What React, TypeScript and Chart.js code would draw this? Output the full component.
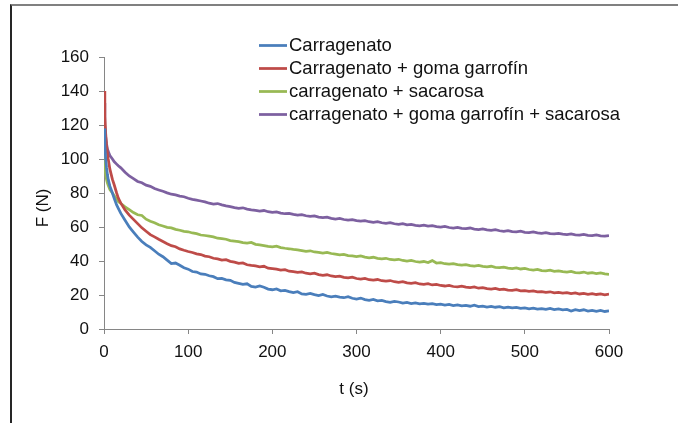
import React, { useEffect, useRef } from "react";
import { Chart, registerables } from "chart.js";

Chart.register(...registerables);

const T = [
  0, 1, 2, 3, 4, 5, 7, 10, 12, 15, 17, 20,
  25, 30, 35, 40, 45, 50, 55, 60, 65, 70, 75, 80, 85, 90, 95, 100,
  105, 110, 115, 120, 125, 130, 135, 140, 145, 150, 155, 160, 165, 170, 175, 180, 185, 190, 195, 200,
  205, 210, 215, 220, 225, 230, 235, 240, 245, 250, 255, 260, 265, 270, 275, 280, 285, 290, 295, 300,
  305, 310, 315, 320, 325, 330, 335, 340, 345, 350, 355, 360, 365, 370, 375, 380, 385, 390, 395, 400,
  405, 410, 415, 420, 425, 430, 435, 440, 445, 450, 455, 460, 465, 470, 475, 480, 485, 490, 495, 500,
  505, 510, 515, 520, 525, 530, 535, 540, 545, 550, 555, 560, 565, 570, 575, 580, 585, 590, 595, 600,
];

const carragenato = [
  118, 108, 100, 95, 91, 88, 84, 80, 77, 73, 71, 68,
  64, 60, 57, 54, 51.5, 49.5, 48, 46, 44, 42.5, 40.5, 38.5, 38.8, 37.5, 36, 35.2,
  33.8, 33.5, 32.4, 32.2, 31.3, 30.8, 29.6, 29.8, 28.9, 28.6, 27.4, 26.8, 26.2, 26.6, 25.1, 24.7, 25.3, 24.6, 23.5, 23.1,
  23.6, 22.5, 22.7, 22.0, 21.4, 21.9, 20.6, 20.4, 20.9, 20.2, 19.6, 20.3, 19.4, 18.9, 19.3, 18.7, 18.4, 19.0, 18.1, 17.6,
  18.2, 17.3, 16.9, 17.4, 16.6, 16.8, 16.1, 15.7, 16.3, 15.9, 15.2, 15.6, 15.0, 15.4, 14.8, 15.1, 14.6, 14.9, 14.3, 14.6,
  14.1, 14.5, 13.8, 14.2, 13.6, 13.9, 13.4, 14.0, 13.2, 13.5, 12.9, 13.3, 12.8, 13.1, 12.5, 12.9, 12.4, 12.7, 12.1, 12.4,
  11.9, 12.3, 11.7, 12.0, 11.6, 12.1, 11.4, 11.8, 11.3, 11.5, 10.6, 11.4, 10.8, 11.3, 10.5, 11.0, 10.4, 10.9, 10.3, 10.6,
];

const carragenatoGoma = [
  140, 125, 115, 108, 104, 100, 94, 88, 85, 80, 77, 74,
  70, 67, 64.5, 62, 59.5, 57.5, 55.5, 54.2, 52.8, 51.5, 50.2, 49.0, 48.4, 47.1, 46.3, 45.6,
  45.0, 44.2, 43.8, 42.9, 42.5, 41.6, 41.2, 40.5, 40.8, 39.8, 39.3, 38.6, 38.9, 37.8, 37.4, 37.1, 36.6, 36.9, 35.8, 35.5,
  35.2, 34.6, 34.9, 34.0, 33.7, 33.3, 33.6, 32.8, 32.5, 32.8, 32.0, 31.6, 31.9, 31.2, 30.8, 31.1, 30.4, 30.1, 30.5, 29.7,
  29.4, 29.8, 29.0, 28.7, 29.1, 28.4, 28.1, 28.5, 27.8, 27.5, 27.9, 27.1, 26.8, 27.2, 26.5, 26.3, 26.7, 25.9, 26.2, 25.6,
  25.3, 25.7, 25.0, 24.8, 25.2, 24.6, 24.3, 24.7, 24.0, 24.3, 23.7, 23.5, 23.9, 23.2, 23.5, 22.9, 22.7, 23.1, 22.4, 22.6,
  22.1, 22.4, 21.8, 22.0, 21.6, 21.9, 21.3, 21.6, 21.1, 21.4, 20.8, 21.2, 20.6, 20.9, 20.4, 20.8, 20.3, 20.6, 20.1, 20.5,
];

const carragenatoSacarosa = [
  106, 96, 91, 88, 86, 84.5, 82, 80, 78.5, 76.5, 75, 73.8,
  71.8, 70.2, 68.5, 67.2, 66.8, 64.6, 63.4, 62.5, 61.3, 60.6, 59.8, 59.5, 58.6, 58.1, 57.4, 57.2,
  56.5, 56.1, 55.3, 55.0, 54.6, 54.2, 53.4, 53.1, 52.8, 52.0, 51.7, 51.4, 50.8, 50.5, 50.9, 49.8, 49.5, 49.1, 48.6, 48.3,
  48.7, 47.9, 47.5, 47.2, 46.8, 46.5, 46.1, 45.7, 46.0, 45.3, 45.1, 44.7, 45.1, 44.4, 44.0, 43.6, 43.9, 43.2, 43.0, 42.6,
  43.0, 42.3, 41.9, 42.2, 41.6, 41.3, 41.6, 40.9, 40.6, 41.0, 40.3, 40.0, 40.3, 39.7, 39.4, 39.7, 39.1, 40.2, 38.8, 39.0,
  38.4, 38.1, 38.5, 37.9, 37.6, 37.9, 37.3, 37.0, 37.4, 36.8, 36.5, 36.9, 36.3, 36.1, 36.4, 35.8, 35.5, 35.9, 35.3, 35.6,
  35.0, 34.7, 35.1, 34.4, 34.2, 34.6, 33.9, 34.2, 33.7, 33.4, 33.9, 33.2, 33.0, 33.5, 32.8, 33.1, 32.6, 33.0, 32.4, 32.2,
];

const carragenatoGomaSacarosa = [
  133, 120, 113, 109, 106, 104.5, 102, 100, 98.5, 97, 96, 94.8,
  92.2, 90.0, 88.5, 86.8, 86.0, 84.6, 83.9, 82.6, 81.8, 81.0, 80.1, 79.3, 78.9, 78.2, 77.8, 76.9,
  76.3, 75.8, 75.3, 74.8, 74.0, 73.5, 73.8, 73.0, 72.4, 72.0, 71.4, 71.0, 71.3, 70.5, 70.1, 69.8, 69.4, 69.7, 69.0, 68.6,
  68.9, 68.2, 67.8, 68.0, 67.4, 67.0, 67.3, 66.6, 66.2, 66.5, 65.8, 65.5, 65.8, 65.1, 64.7, 65.0, 64.4, 64.0, 64.3, 63.7,
  63.4, 63.7, 63.1, 62.8, 63.2, 62.5, 62.2, 62.6, 61.9, 61.6, 62.0, 61.3, 61.5, 61.0, 60.7, 61.1, 60.5, 60.8, 60.2, 60.0,
  60.4, 59.7, 59.4, 59.8, 59.2, 59.0, 59.4, 58.8, 58.5, 58.9, 58.3, 58.0, 58.4, 57.8, 57.5, 57.9, 57.3, 57.1, 57.5, 56.9,
  56.7, 57.1, 56.5, 56.3, 56.7, 56.1, 55.9, 56.3, 55.8, 55.5, 55.9, 55.4, 55.2, 55.6, 55.1, 54.9, 55.3, 54.8, 54.6, 55.0,
];

const seriesNames = [
  "Carragenato",
  "Carragenato + goma garrofín",
  "carragenato + sacarosa",
  "carragenato + goma garrofín + sacarosa",
];
const seriesValues = [carragenato, carragenatoGoma, carragenatoSacarosa, carragenatoGomaSacarosa];
const seriesColors = ["#4a7ebb", "#be4b48", "#98b954", "#7d60a0"];

const xTitle = "t (s)";
const yTitle = "F (N)";

const FONT = "'Liberation Sans', Arial, sans-serif";

const overlayPlugin = {
  id: "overlay",
  afterDraw(chart: any) {
    const ctx = chart.ctx;
    ctx.save();
    // legend
    chart.data.datasets.forEach((ds: any, i: number) => {
      const y = 45.5 + i * 23;
      ctx.strokeStyle = ds.borderColor;
      ctx.lineWidth = 2.75;
      ctx.beginPath();
      ctx.moveTo(259, y);
      ctx.lineTo(287, y);
      ctx.stroke();
      ctx.fillStyle = "#111";
      ctx.font = `18.5px ${FONT}`;
      ctx.textBaseline = "middle";
      ctx.textAlign = "left";
      ctx.fillText(ds.label, 289, y + 0.5);
    });
    // axis titles
    ctx.fillStyle = "#111";
    ctx.font = `17px ${FONT}`;
    ctx.textAlign = "center";
    ctx.textBaseline = "middle";
    ctx.fillText(xTitle, 354, 389);
    ctx.translate(43, 208);
    ctx.rotate(-Math.PI / 2);
    ctx.fillText(yTitle, 0, 0);
    ctx.restore();
  },
};

export default function App() {
  const ref = useRef<HTMLCanvasElement | null>(null);
  useEffect(() => {
    if (!ref.current) return;
    const chart = new Chart(ref.current, {
      type: "line",
      data: {
        datasets: seriesNames.map((name, i) => ({
          label: name,
          data: T.map((t, j) => ({ x: t, y: seriesValues[i][j] })),
          borderColor: seriesColors[i],
          backgroundColor: seriesColors[i],
          borderWidth: 2.75,
          pointRadius: 0,
          tension: 0,
          fill: false,
        })),
      },
      options: {
        animation: false,
        responsive: false,
        devicePixelRatio: 1,
        layout: { padding: { left: 0, top: 57, right: 69, bottom: 0 } },
        plugins: { legend: { display: false }, tooltip: { enabled: false } },
        scales: {
          x: {
            type: "linear",
            min: 0,
            max: 600,
            afterFit: (s: any) => {
              s.height = 94;
            },
            ticks: { stepSize: 100, padding: 8, color: "#111", font: { family: FONT, size: 17 } },
            grid: { drawOnChartArea: false, drawTicks: true, tickLength: 5, color: "#868686" },
            border: { color: "#868686", width: 1 },
          },
          y: {
            type: "linear",
            min: 0,
            max: 160,
            afterFit: (s: any) => {
              s.width = 104;
            },
            ticks: { stepSize: 20, padding: 10, color: "#111", font: { family: FONT, size: 17 } },
            grid: { drawOnChartArea: false, drawTicks: true, tickLength: 5, color: "#868686" },
            border: { color: "#868686", width: 1 },
          },
        },
      },
      plugins: [overlayPlugin],
    });
    return () => chart.destroy();
  }, []);

  return (
    <div style={{ position: "absolute", left: 0, top: 0, width: 678, height: 423, overflow: "hidden", background: "#fff" }}>
      <div
        style={{
          position: "absolute",
          left: 10,
          top: 4,
          width: 720,
          height: 500,
          borderTop: "2px solid #808080",
          borderLeft: "2px solid #262626",
        }}
      />
      <canvas ref={ref} width={678} height={423} style={{ position: "absolute", left: 0, top: 0, width: 678, height: 423 }} />
    </div>
  );
}
